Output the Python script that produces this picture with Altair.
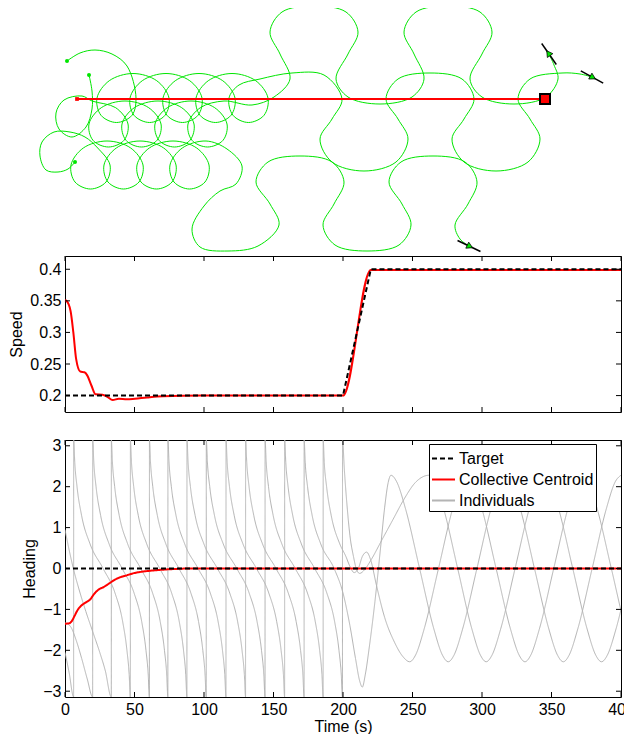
import math
import altair as alt
import pandas as pd

FONT = "Liberation Sans"
GREEN = "#00e600"
GREY = "#b4b4b4"
PI = math.pi

# ---------------- tick values ----------------
time_ticks = [0, 50, 100, 150, 200, 250, 300, 350, 400]
speed_ticks = [0.2, 0.25, 0.3, 0.35, 0.4]
heading_ticks = [-3, -2, -1, 0, 1, 2, 3]

# ---------------- speed panel ----------------
speed_time = [0, 1, 4, 6, 8, 11, 14, 16, 19, 22, 27, 30.5, 34.3, 38.7, 44.5, 50.3, 59, 70.5, 98, 200, 220, 400]
speed_value = [0.351, 0.350, 0.334, 0.300, 0.258, 0.238, 0.237, 0.232, 0.216, 0.202, 0.2015, 0.198,
               0.193, 0.195, 0.194, 0.195, 0.197, 0.199, 0.2, 0.2, 0.399, 0.399]
target_speed_time = [0, 200, 220, 400]
target_speed_value = [0.2, 0.2, 0.4, 0.4]

# ---------------- heading panel ----------------
centroid_time = [0, 3, 5, 7, 9, 12, 15, 18, 21, 24, 28, 32, 36, 40, 45, 50, 55, 60, 70, 80, 90, 400]
centroid_heading = [-1.35, -1.34, -1.28, -1.15, -1.02, -0.90, -0.83, -0.76, -0.62, -0.52, -0.45, -0.36,
                    -0.27, -0.21, -0.16, -0.11, -0.08, -0.06, -0.03, -0.01, 0.0, 0.0]
target_heading_time = [0, 400]
target_heading = [0, 0]

# one turning cycle (fraction of cycle, heading)
cycle_frac = [0, 0.02, 0.06, 0.14, 0.29, 0.52, 0.73, 0.865, 0.94, 0.98, 1.0]
cycle_heading = [3.14, 2.6, 2.0, 1.3, 0.6, 0.0, -0.6, -1.3, -2.0, -2.6, -3.14]
# one swing between extremes in the second half (fraction of time, fraction of swing)
swing_frac = [0, 0.1, 0.25, 0.5, 0.75, 0.9]
swing_level = [0, 0.035, 0.175, 0.5, 0.825, 0.965]

# individual P
init_P = [(0, -2.05), (3, -2.55), (6.2, -3.14)]
wraps_P = [6.2, 47.0, 87.7, 129.9, 172.0]
tail_P = [(172.0, 3.14), (172.8, 2.6), (174.5, 2.0), (177.8, 1.3), (184, 0.6), (193.6, 0.0), (200, -0.6),
          (205, -1.4), (209, -2.2), (212, -2.75), (213.9, -2.9), (216, -2.6), (219, -1.9), (223, -0.8),
          (227, 0.5), (230, 1.5), (232.5, 2.1)]
ext_P = [(234.5, 2.28), (275.7, -2.28), (317, 2.28), (358.5, -2.28), (400, 2.28)]
# individual Q
init_Q = [(0, -1.33), (4, -1.42), (8, -1.75), (12, -2.2), (16, -2.7), (19.9, -3.14)]
wraps_Q = [19.9, 60.7, 101.6, 143.9, 185.7]
tail_Q = [(185.7, 3.14), (186.5, 2.6), (188.2, 2.0), (191.5, 1.3), (197.7, 0.6), (202, 0.3), (205, 0.05),
          (208, -0.1), (211, 0.0), (214, 0.3), (217, 0.4), (220, 0.2), (224, -0.4), (230, -1.2),
          (237, -1.8), (243, -2.15)]
ext_Q = [(248, -2.28), (289.4, 2.28), (330.9, -2.28), (372.3, 2.28), (413.8, -2.28)]
# individual R
init_R = [(0, 0.95), (3, 0.45), (6, 0.0), (10, -0.5), (15, -1.05), (20, -1.55), (25, -2.05), (29, -2.5),
          (33.3, -3.14)]
wraps_R = [33.3, 74.0, 115.8, 158.0, 199.6]
tail_R = [(199.6, 3.14), (201, 2.4), (203, 1.5), (205, 0.8), (207.5, 0.3), (210, -0.05), (212, -0.12),
          (215, -0.05), (220, 0.2), (228, 0.7), (236, 1.2), (244, 1.7), (252, 2.1)]
ext_R = [(262, 2.28), (303, -2.28), (344.6, 2.28), (386, -2.28), (427.5, 2.28)]

# ---------------- trajectory panel (position units) ----------------
traj_A = [(-10, 38), (3, 46), (18, 49), (35, 45), (50, 33),
          (59, 1), (55, -16.3), (39.5, -23.5), (24, -16.3), (20, 1), (32.3, 18.3),
          (56, 25.5), (79.7, 18.3), (92, 1), (88, -16.3), (72.5, -23.5), (57, -16.3), (53, 1), (65.3, 18.3),
          (89, 25.5), (112.7, 18.3), (125, 1), (121, -16.3), (105.5, -23.5), (90, -16.3), (86, 1), (98.3, 18.3),
          (122, 25.5), (145.7, 18.3), (158, 1), (154, -16.3), (138.5, -23.5), (123, -16.3), (119, 1), (131.3, 18.3),
          (155, 25.5), (178.7, 18.3), (191, 1), (187, -16.3), (171.5, -23.5), (156, -16.3), (152, 1),
          (162, 14), (183, 20), (215, 26), (247, 24), (265, 0),
          (255, -20), (243, -40), (255, -63), (287, -72), (319, -63), (331, -40), (321, -20), (309, 0),
          (321, 20), (353, 26), (385, 20), (397, 0), (387, -20), (375, -40), (387, -63), (419, -72),
          (451, -63), (463, -40), (453, -20), (441, 0), (453, 20), (485, 26), (503, 25), (515, 22)]
traj_B = [(12, 24), (15, 8), (15, -10), (9, -28), (-5, -38), (-18, -30), (-21, -14), (-13, -1), (5, 3),
          (15, -2), (38.7, -8.7), (51, -25), (47, -41.3), (31.5, -48), (16, -41.3), (12, -25), (24.3, -8.7),
          (48, -2), (71.7, -8.7), (84, -25), (80, -41.3), (64.5, -48), (49, -41.3), (45, -25), (57.3, -8.7),
          (81, -2), (104.7, -8.7), (117, -25), (113, -41.3), (97.5, -48), (82, -41.3), (78, -25), (90.3, -8.7),
          (114, -2), (137.7, -8.7), (150, -25), (146, -41.3), (130.5, -48), (115, -41.3), (111, -25), (123.3, -8.7),
          (147, -2), (175, -6), (197, 2), (213, 20), (203, 45), (193, 67), (205, 87), (237, 93), (269, 87),
          (281, 67), (271, 45), (259, 20), (271, 2), (303, -5), (335, 2), (347, 20), (337, 45), (327, 67),
          (339, 87), (371, 93), (403, 87), (415, 67), (405, 45), (393, 20), (405, 2), (437, -5), (469, 2),
          (481, 20), (477, 34), (472, 45)]
traj_C = [(-2, -63), (-9, -70), (-19, -73), (-31, -71), (-37, -57), (-35, -43), (-23, -33), (-7, -33), (8, -38),
          (20.7, -49), (33, -66), (29, -83), (13.5, -90), (-2, -83), (-6, -66), (6.3, -49),
          (30, -42), (53.7, -49), (66, -66), (62, -83), (46.5, -90), (31, -83), (27, -66), (39.3, -49),
          (63, -42), (86.7, -49), (99, -66), (95, -83), (79.5, -90), (64, -83), (60, -66), (72.3, -49),
          (96, -42), (119.7, -49), (132, -66), (128, -83), (112.5, -90), (97, -83), (93, -66), (105.3, -49),
          (129, -42), (150, -50),
          (165, -67), (159, -85), (143, -92), (127, -107), (115, -130), (123, -148), (151, -152),
          (181, -147), (202, -126), (193, -105), (179, -83), (191, -63), (223, -57), (255, -63),
          (267, -83), (257, -105), (246, -126), (258, -146), (290, -152), (322, -146), (334, -126),
          (325, -105), (312, -83), (324, -63), (356, -57), (388, -63), (400, -83), (391, -105),
          (378, -126), (383, -140), (392, -147)]
centroid_path = [(0, 0), (468, 0)]
end_x = [472, 515, 392]
end_y = [45, 22, -147]
end_heading = [2.18, -0.5, -0.45]

# ---------------- build tables ----------------
rows = []
GAP = 0.05  # the wrap from -pi to +pi is drawn as a (near) vertical line, as in the original

for ind, init, wraps, tail, ext in [("P", init_P, wraps_P, tail_P, ext_P),
                                    ("Q", init_Q, wraps_Q, tail_Q, ext_Q),
                                    ("R", init_R, wraps_R, tail_R, ext_R)]:
    pts = list(init)
    for a, b in zip(wraps[:-1], wraps[1:]):
        cyc = [(a + f * (b - a), v) for f, v in zip(cycle_frac, cycle_heading)]
        cyc[0] = (a + GAP, cyc[0][1])
        pts.extend(cyc)
    tl = list(tail)
    tl[0] = (tl[0][0] + GAP, tl[0][1])
    pts.extend(tl)
    for (ta, va), (tb, vb) in zip(ext[:-1], ext[1:]):
        for f, w in zip(swing_frac, swing_level):
            pts.append((ta + f * (tb - ta), va + w * (vb - va)))
    pts.append(ext[-1])
    for t, h in pts:
        rows.append({"t": t, "h": h, "ind": ind, "series": "Individuals"})
ind_df = pd.DataFrame(rows)

cent_df = pd.DataFrame({"t": centroid_time, "h": centroid_heading, "series": "Collective Centroid"})
targ_df = pd.DataFrame({"t": target_heading_time, "h": target_heading, "series": "Target"})

speed_df = pd.DataFrame({"t": speed_time, "s": speed_value})
tspeed_df = pd.DataFrame({"t": target_speed_time, "s": target_speed_value})

traj_rows = []
for name, pts in [("A", traj_A), ("B", traj_B), ("C", traj_C)]:
    for k, (x, y) in enumerate(pts):
        traj_rows.append({"x": x, "y": y, "ind": name, "k": k})
traj_df = pd.DataFrame(traj_rows)
start_df = pd.DataFrame([{"x": p[0][0], "y": p[0][1]} for p in (traj_A, traj_B, traj_C)])
cpath_df = pd.DataFrame({"x": [p[0] for p in centroid_path], "y": [p[1] for p in centroid_path]})
cstart_df = cpath_df.iloc[[0]]
cend_df = cpath_df.iloc[[-1]]
ends_df = pd.DataFrame({"x": end_x, "y": end_y, "hd": end_heading})
ends_df["deg"] = ends_df["hd"] * 180 / PI
ends_df["line_angle"] = (360 - ends_df["deg"]) % 360
ends_df["tri_angle"] = (90 - ends_df["deg"]) % 360

# ---------------- sizes ----------------
W = 556
H_TOP = 248
H_SPEED = 156
H_HEAD = 257
TICK = 5

# ---------------- top panel ----------------
xt = alt.X("x:Q", scale=alt.Scale(domain=[-12, 544], nice=False, zero=False), axis=None)
yt = alt.Y("y:Q", scale=alt.Scale(domain=[-156, 92], nice=False, zero=False), axis=None)
paths = alt.Chart(traj_df).mark_line(color=GREEN, strokeWidth=1, interpolate="catmull-rom").encode(
    x=xt, y=yt, detail="ind:N", order="k:Q")
cline = alt.Chart(cpath_df).mark_line(color="red", strokeWidth=2).encode(x=xt, y=yt)
starts = alt.Chart(start_df).mark_point(filled=True, size=16, color=GREEN, opacity=1).encode(x=xt, y=yt)
cstart = alt.Chart(cstart_df).mark_point(shape="square", filled=True, size=14, color="red", opacity=1).encode(x=xt, y=yt)
cend = alt.Chart(cend_df).mark_point(shape="square", filled=True, fill="red", stroke="black", strokeWidth=2,
                                     size=100, opacity=1).encode(x=xt, y=yt)
arrow_lines = alt.Chart(ends_df).mark_point(shape="stroke", filled=False, stroke="black", strokeWidth=1.5,
                                            size=650, opacity=1).encode(
    x=xt, y=yt, angle=alt.Angle("line_angle:Q", scale=None))
arrow_heads = alt.Chart(ends_df).mark_point(shape="triangle", filled=True, fill=GREEN, stroke="black",
                                            strokeWidth=0.7, size=45, opacity=1).encode(
    x=xt, y=yt, angle=alt.Angle("tri_angle:Q", scale=None))
top = alt.layer(paths, cline, starts, cstart, cend, arrow_lines, arrow_heads).properties(
    width=W, height=H_TOP, view=alt.ViewBackground(strokeOpacity=0))

# ---------------- speed panel ----------------
xs = alt.X("t:Q", scale=alt.Scale(domain=[0, 400], nice=False), axis=None)
ys = alt.Y("s:Q", scale=alt.Scale(domain=[0.174, 0.421], nice=False, zero=False),
           axis=alt.Axis(values=speed_ticks, format=".2~f", title="Speed", ticks=False, tickSize=0,
                         domain=False, grid=False, labelPadding=4, titlePadding=5))
sp_red = alt.Chart(speed_df).mark_line(color="red", strokeWidth=2, interpolate="monotone").encode(x=xs, y=ys)
sp_tgt = alt.Chart(tspeed_df).mark_line(color="black", strokeWidth=2, strokeDash=[5, 3]).encode(x=xs, y=ys)
st_df = pd.DataFrame({"t": time_ticks})
ss_df = pd.DataFrame({"s": speed_ticks})
sp_ticks = [
    alt.Chart(st_df).mark_rule(color="black").encode(x=xs, y=alt.value(H_SPEED), y2=alt.value(H_SPEED - TICK)),
    alt.Chart(st_df).mark_rule(color="black").encode(x=xs, y=alt.value(0), y2=alt.value(TICK)),
    alt.Chart(ss_df).mark_rule(color="black").encode(y=ys, x=alt.value(0), x2=alt.value(TICK)),
    alt.Chart(ss_df).mark_rule(color="black").encode(y=ys, x=alt.value(W), x2=alt.value(W - TICK)),
]
speed = alt.layer(sp_red, sp_tgt, *sp_ticks).properties(
    width=W, height=H_SPEED, view=alt.ViewBackground(stroke="black", strokeWidth=1))

# ---------------- heading panel ----------------
series_domain = ["Target", "Collective Centroid", "Individuals"]
color_scale = alt.Scale(domain=series_domain, range=["#000000", "#ff0000", GREY])
dash_scale = alt.Scale(domain=series_domain, range=[[5, 3], [1, 0], [1, 0]])
legend = alt.Legend(title=None, orient="none", legendX=364, legendY=4, symbolType="stroke", symbolSize=529,
                    symbolStrokeWidth=2, labelFontSize=16, labelFont=FONT, labelColor="black",
                    fillColor="white", strokeColor="black", padding=2, rowPadding=-4, labelOffset=3)
xh = alt.X("t:Q", scale=alt.Scale(domain=[0, 400], nice=False),
           axis=alt.Axis(values=time_ticks, format="d", title="Time (s)", ticks=False, tickSize=0,
                         domain=False, grid=False, labelPadding=4, titlePadding=1, labelFlush=False))
yh = alt.Y("h:Q", scale=alt.Scale(domain=[-PI, PI], nice=False, zero=False),
           axis=alt.Axis(values=heading_ticks, format="d", title="Heading", ticks=False, tickSize=0,
                         domain=False, grid=False, labelPadding=4, titlePadding=5))
col = alt.Color("series:N", scale=color_scale, legend=legend)
dash = alt.StrokeDash("series:N", scale=dash_scale, legend=legend)
h_ind = alt.Chart(ind_df).mark_line(strokeWidth=1, interpolate="monotone", clip=True).encode(
    x=xh, y=yh, detail="ind:N", color=col, strokeDash=dash)
h_cent = alt.Chart(cent_df).mark_line(strokeWidth=2, interpolate="monotone").encode(
    x=xh, y=yh, color=col, strokeDash=dash)
h_targ = alt.Chart(targ_df).mark_line(strokeWidth=2).encode(x=xh, y=yh, color=col, strokeDash=dash)
ht_df = pd.DataFrame({"t": time_ticks})
hh_df = pd.DataFrame({"h": heading_ticks})
h_ticks = [
    alt.Chart(ht_df).mark_rule(color="black").encode(x=xh, y=alt.value(H_HEAD), y2=alt.value(H_HEAD - TICK)),
    alt.Chart(ht_df).mark_rule(color="black").encode(x=xh, y=alt.value(0), y2=alt.value(TICK)),
    alt.Chart(hh_df).mark_rule(color="black").encode(y=yh, x=alt.value(0), x2=alt.value(TICK)),
    alt.Chart(hh_df).mark_rule(color="black").encode(y=yh, x=alt.value(W), x2=alt.value(W - TICK)),
]
heading = alt.layer(h_ind, h_cent, h_targ, *h_ticks).properties(
    width=W, height=H_HEAD, view=alt.ViewBackground(stroke="black", strokeWidth=1))

PAD = {"left": 0, "top": -5, "right": -11, "bottom": 0}
inner = alt.vconcat(speed, heading, spacing=24).resolve_scale(color="independent", strokeDash="independent")
chart = alt.vconcat(top, inner, spacing=0).resolve_scale(color="independent", strokeDash="independent")
chart = chart.properties(padding=PAD).configure(font=FONT, padding=PAD).configure_axis(
    labelFont=FONT, labelFontSize=16, labelColor="black", titleFont=FONT, titleFontSize=16,
    titleFontWeight="normal", titleColor="black").configure_view(stroke="transparent")

chart.save("out.html", embed_options={"renderer": "svg", "actions": False})
